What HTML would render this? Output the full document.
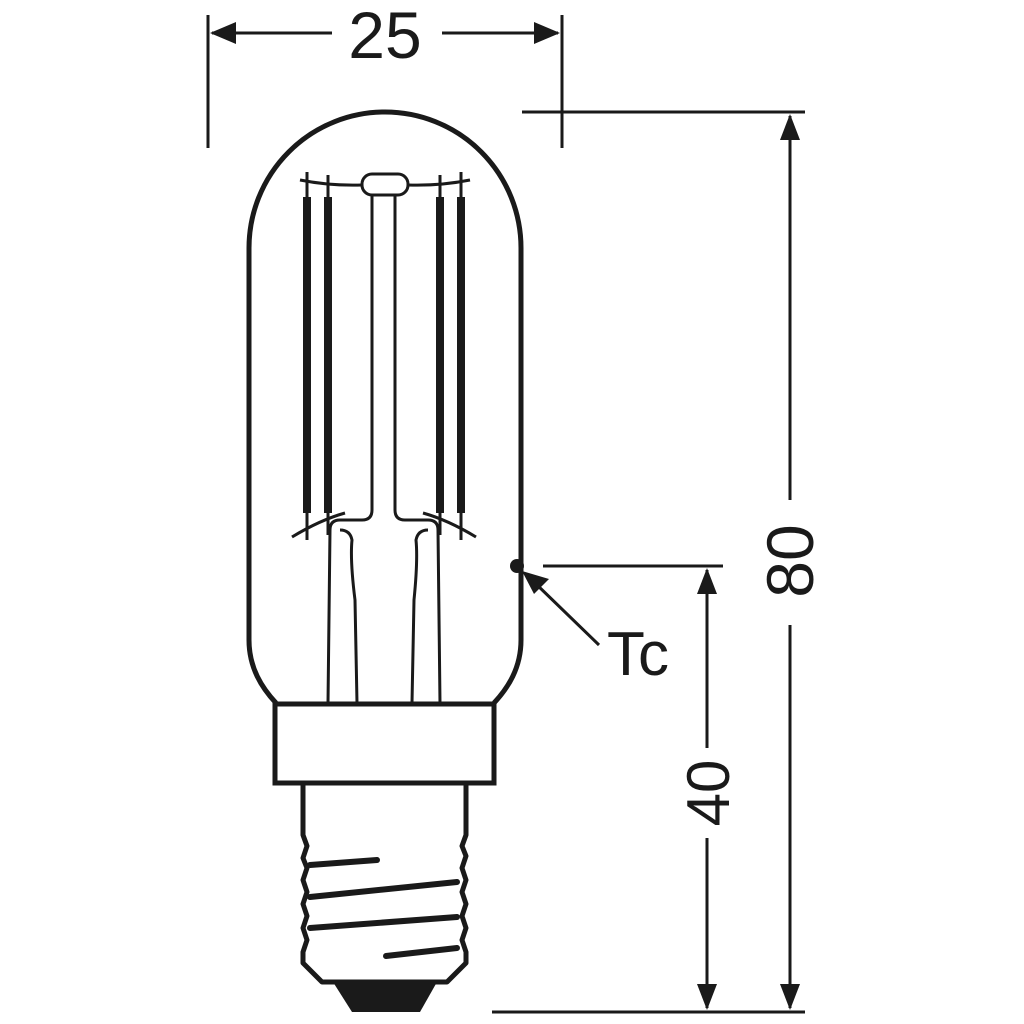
<!DOCTYPE html>
<html><head><meta charset="utf-8"><style>html,body{margin:0;padding:0;background:#fff}svg{display:block}</style></head>
<body>
<svg width="1024" height="1024" viewBox="0 0 1024 1024" xmlns="http://www.w3.org/2000/svg">
<g fill="none" stroke="#1a1a1a" stroke-linecap="butt">
<!-- glass -->
<path d="M276 703 C262 688 249 668 249 640 L249 248 A136 136 0 0 1 521 248 L521 640 C521 668 508 688 494 703" stroke-width="5"/>
<!-- collar -->
<rect x="275" y="704" width="219" height="79" stroke-width="5"/>
<!-- base -->
<path d="M303 784 L303 835 L307 846 L303 858 L307 868 L303 880 L307 892 L303 904 L307 916 L303 928 L307 940 L303 952 L303 963 L322 982 L447 982 L466 963 L466 952 L462 940 L466 928 L462 916 L466 904 L462 892 L466 880 L462 868 L466 856 L462 846 L466 835 L466 784" stroke-width="5" stroke-linejoin="round"/>
<g stroke-width="6" stroke-linecap="round">
<line x1="310" y1="865" x2="377" y2="860"/>
<line x1="310" y1="897" x2="457" y2="882"/>
<line x1="310" y1="928" x2="457" y2="917"/>
<line x1="386" y1="956" x2="457" y2="948"/>
</g>
<!-- filaments -->
<g stroke-width="8">
<line x1="307" y1="197" x2="307" y2="513"/><line x1="328" y1="197" x2="328" y2="513"/>
<line x1="440" y1="197" x2="440" y2="513"/><line x1="461" y1="197" x2="461" y2="513"/>
</g>
<g stroke-width="3">
<line x1="307" y1="172" x2="307" y2="540"/><line x1="328" y1="175" x2="328" y2="535"/>
<line x1="440" y1="175" x2="440" y2="535"/><line x1="461" y1="172" x2="461" y2="540"/>
<path d="M300 180 Q330 186 362 185"/><path d="M408 185 Q440 186 470 180"/>
<rect x="362" y="174" width="46" height="21" rx="10"/>
<path d="M372 195 L372 510 Q372 520 362 520 L340 520 Q330 520 330 530 L328 703"/>
<path d="M395 195 L395 510 Q395 520 405 520 L428 520 Q438 520 438 530 L440 703"/>
<path d="M357 703 L355 600 Q350 560 352 540 Q350 530 340 530"/>
<path d="M412 703 L414 600 Q418 560 416 540 Q418 530 428 530"/>
<path d="M292 537 Q320 520 345 513"/><path d="M476 537 Q448 520 423 513"/>
</g>
<!-- dimensions -->
<g stroke-width="3">
<line x1="208" y1="15" x2="208" y2="148"/><line x1="562" y1="15" x2="562" y2="148"/>
<line x1="212" y1="33" x2="332" y2="33"/><line x1="442" y1="33" x2="558" y2="33"/>
<line x1="522" y1="112" x2="805" y2="112"/>
<line x1="790" y1="116" x2="790" y2="500"/><line x1="790" y1="625" x2="790" y2="1008"/>
<line x1="492" y1="1012" x2="805" y2="1012"/>
<line x1="543" y1="566" x2="723" y2="566"/>
<line x1="707" y1="570" x2="707" y2="748"/><line x1="707" y1="838" x2="707" y2="1008"/>
<line x1="599" y1="645" x2="535" y2="583"/>
</g>
</g>
<g fill="#1a1a1a">
<polygon points="210,33 236,22 236,44"/><polygon points="560,33 534,22 534,44"/>
<polygon points="790,114 780,140 800,140"/><polygon points="790,1010 780,984 800,984"/>
<polygon points="707,568 697,594 717,594"/><polygon points="707,1010 697,984 717,984"/>
<polygon points="522,571 549,579 534,594"/>
<circle cx="517" cy="566" r="7"/>
<path d="M333 982 L437 982 L420 1012 L352 1012 Z"/>
</g>
<g font-family="Liberation Sans, sans-serif" fill="#1a1a1a">
<text x="385" y="58" font-size="66" text-anchor="middle">25</text>
<text x="607" y="675" font-size="62">Tc</text>
<text transform="translate(813,561) rotate(-90)" font-size="66" text-anchor="middle">80</text>
<text transform="translate(729,793) rotate(-90)" font-size="60" text-anchor="middle">40</text>
</g>
</svg>
</body></html>
